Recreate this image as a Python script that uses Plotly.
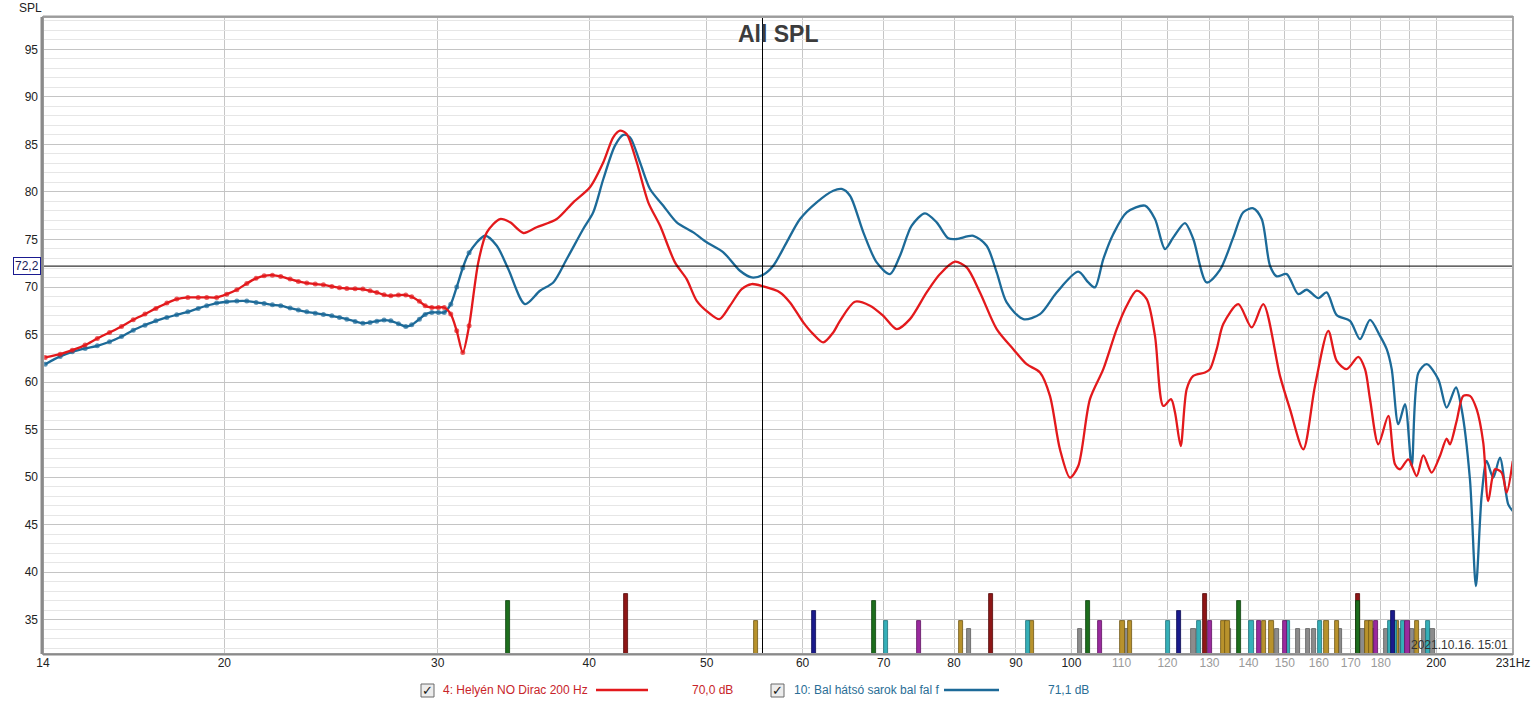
import plotly.graph_objects as go

# ---------------- data ----------------
LOW_F = [14.23, 14.64, 14.98, 15.35, 15.71, 16.08, 16.45, 16.82, 17.20, 17.56,
         17.93, 18.27, 18.66, 19.03, 19.34, 19.71, 20.09, 20.48, 20.87, 21.24,
         21.57, 21.91, 22.26, 22.66, 23.02, 23.39, 23.77, 24.14, 24.53, 24.89,
         25.24, 25.64, 26.02, 26.38, 26.72, 27.09, 27.44, 27.84, 28.23, 28.55,
         28.97, 29.29, 29.66, 30.04, 30.37, 30.75, 31.10, 31.46, 31.84]
RED_LOW = [62.59, 62.94, 63.36, 63.89, 64.59, 65.22, 65.85, 66.55, 67.15, 67.75,
           68.31, 68.73, 68.91, 68.91, 68.91, 68.91, 69.25, 69.71, 70.38, 70.91,
           71.18, 71.25, 71.11, 70.83, 70.59, 70.41, 70.31, 70.23, 70.06, 69.92,
           69.85, 69.81, 69.78, 69.60, 69.43, 69.18, 69.08, 69.15, 69.15, 68.97,
           68.49, 68.02, 67.85, 67.85, 67.85, 67.15, 65.39, 63.12, 65.92]
BLUE_LOW = [61.88, 62.70, 63.18, 63.54, 63.82, 64.24, 64.80, 65.46, 65.99, 66.44,
            66.80, 67.08, 67.39, 67.75, 68.03, 68.31, 68.45, 68.52, 68.52, 68.38,
            68.27, 68.13, 68.03, 67.78, 67.57, 67.39, 67.25, 67.12, 66.97, 66.80,
            66.62, 66.38, 66.20, 66.28, 66.41, 66.52, 66.44, 66.13, 65.85, 66.02,
            66.62, 67.12, 67.33, 67.33, 67.33, 68.20, 70.00, 72.00, 73.60]

RED_F = [32.40, 32.93, 33.77, 34.42, 35.30, 36.20, 37.61, 38.81, 40.06, 41.09,
         41.87, 42.41, 42.95, 43.78, 44.75, 45.76, 47.08, 48.14, 49.07, 50.16,
         51.22, 52.27, 53.44, 54.47, 55.68, 57.48, 58.58, 60.08, 61.23, 62.40,
         63.60, 64.42, 66.28, 68.20, 69.94, 71.75, 73.58, 75.95, 77.90, 80.15,
         81.95, 84.05, 86.76, 89.54, 91.85, 94.20, 96.00, 97.84, 99.72, 101.30,
         103.58, 106.24, 108.98, 111.07, 113.20, 115.37, 117.20, 119.07, 120.83, 121.75,
         123.07, 124.48, 126.05, 128.89, 130.11, 131.78, 133.44, 137.30, 140.84, 143.98,
         148.62, 151.47, 155.35, 158.85, 162.91, 165.53, 168.71, 172.47, 174.68, 176.35,
         179.15, 182.59, 184.92, 186.69, 189.66, 192.71, 195.14, 198.26, 201.41, 203.99,
         205.27, 207.90, 210.53, 213.22, 215.95, 218.68, 220.76, 223.59, 226.45, 228.61,
         231.30]
RED_DB = [72.59, 75.75, 77.15, 76.80, 75.68, 76.28, 77.15, 78.91, 80.49, 83.12,
          85.75, 86.45, 86.10, 83.12, 78.91, 76.46, 72.59, 70.83, 68.55, 67.33,
          66.62, 68.03, 69.78, 70.31, 70.06, 69.43, 68.38, 66.28, 65.04, 64.17,
          65.22, 66.44, 68.45, 68.03, 66.97, 65.57, 66.62, 69.43, 71.36, 72.66,
          72.06, 69.43, 65.57, 63.46, 61.88, 61.01, 58.55, 52.93, 49.95, 51.17,
          58.20, 61.36, 65.57, 68.03, 69.61, 68.73, 64.86, 57.49, 58.20, 56.80,
          53.28, 59.26, 60.65, 61.01, 61.36, 63.46, 66.10, 68.20, 65.75, 68.20,
          60.65, 57.15, 52.93, 59.61, 65.39, 62.23, 61.36, 62.65, 61.36, 58.20,
          53.46, 56.44, 51.35, 50.83, 51.88, 50.12, 52.30, 50.48, 52.23, 54.06,
          53.46, 55.91, 58.55, 58.55, 57.15, 53.64, 47.49, 50.83, 50.48, 48.38,
          51.70]

BLUE_F = [32.82, 33.56, 34.30, 35.41, 36.43, 37.36, 38.33, 39.55, 40.31, 41.09,
          42.01, 42.68, 43.22, 44.05, 44.90, 46.05, 47.24, 48.75, 50.01, 51.61,
          53.27, 54.47, 55.68, 56.75, 58.21, 59.71, 61.63, 63.60, 64.63, 65.66,
          67.34, 69.07, 70.84, 72.20, 73.82, 75.71, 77.41, 79.14, 80.41, 82.99,
          85.12, 86.76, 88.42, 91.26, 94.20, 97.23, 101.30, 103.25, 104.57, 106.24,
          108.28, 111.07, 115.00, 117.20, 119.46, 121.35, 124.08, 126.05, 129.30, 132.61,
          136.00, 138.61, 141.27, 143.55, 145.83, 147.70, 150.53, 153.88, 156.36, 159.84,
          162.42, 165.53, 169.77, 173.03, 176.35, 179.73, 182.03, 183.77, 186.09, 188.47,
          190.88, 193.29, 196.40, 200.76, 203.99, 207.63, 209.89, 213.22, 215.66, 218.01,
          220.09, 222.87, 225.72, 229.31, 231.30]
BLUE_DB = [75.39, 74.34, 71.89, 68.20, 69.61, 70.48, 72.94, 76.10, 77.86, 81.36,
           84.87, 86.00, 85.75, 83.12, 80.31, 78.55, 76.80, 75.75, 74.70, 73.65,
           71.71, 71.01, 71.30, 72.24, 74.70, 77.15, 78.91, 80.13, 80.31, 79.60,
           75.75, 72.59, 71.36, 73.29, 76.45, 77.75, 76.80, 75.12, 75.05, 75.39,
           74.34, 71.54, 68.38, 66.62, 67.15, 69.43, 71.61, 70.48, 69.96, 72.94,
           75.57, 77.86, 78.55, 77.15, 73.99, 75.22, 76.73, 75.05, 70.48, 71.80,
           75.22, 77.86, 78.28, 77.15, 72.24, 71.12, 71.36, 69.25, 69.71, 68.83,
           69.43, 67.04, 66.44, 64.52, 66.55, 64.86, 63.46, 61.36, 55.57, 57.67,
           51.17, 60.95, 61.88, 60.30, 57.32, 59.43, 57.15, 49.78, 38.54, 48.02,
           51.70, 49.95, 52.06, 47.14, 46.44]

# mode markers at the bottom (frequency, top level in dB)
MODES_GRAY_F = [82.36, 101.69, 111.03, 126.10, 134.90, 147.75, 153.83, 156.86, 158.48,
                166.42, 173.82, 177.22, 181.66, 186.45, 190.99, 195.36, 198.56]
MODES_GRAY_TOP = [34.0] * len(MODES_GRAY_F)
MODES_OLIVE_F = [54.94, 81.07, 92.69, 110.17, 111.83, 133.52, 134.49, 144.26, 146.25,
                 162.35, 165.56, 175.51, 176.65, 185.74, 192.85]
MODES_OLIVE_TOP = [34.9] * len(MODES_OLIVE_F)
MODES_TEAL_F = [70.34, 92.14, 120.18, 127.50, 140.82, 150.87, 160.45, 183.08, 184.90,
                187.66, 196.89]
MODES_TEAL_TOP = [34.9] * len(MODES_TEAL_F)
MODES_PURPLE_F = [74.85, 105.61, 130.19, 142.84, 149.98, 178.38, 189.37]
MODES_PURPLE_TOP = [34.9] * len(MODES_PURPLE_F)
MODES_NAVY_F = [61.31, 122.70, 184.30]
MODES_NAVY_TOP = [35.9] * len(MODES_NAVY_F)
MODES_RED_F = [42.92, 85.89, 128.91, 172.24]
MODES_RED_TOP = [37.7] * len(MODES_RED_F)
MODES_GREEN_F = [34.30, 68.76, 103.23, 137.56, 172.24]
MODES_GREEN_TOP = [37.0] * len(MODES_GREEN_F)

X_TICKS = [14.17, 20, 30, 40, 50, 60, 70, 80, 90, 100, 110, 120, 130, 140, 150,
           160, 170, 180, 200, 231.4]
X_LABELS = ["14", "20", "30", "40", "50", "60", "70", "80", "90", "100", "110", "120",
            "130", "140", "150", "160", "170", "180", "200", "231Hz"]
X_GRID = [20, 30, 40, 50, 60, 70, 80, 90, 100, 110, 120, 130, 140, 150, 160, 170,
          180, 190, 200]
Y_TICKS = [35, 40, 45, 50, 55, 60, 65, 70, 75, 80, 85, 90, 95]

CURSOR_F = 55.6
CURSOR_DB = 72.2
NAME_RED = "4: Helyén NO Dirac 200 Hz"
NAME_BLUE = "10: Bal hátsó sarok bal fal f"
VAL_RED = "70,0 dB"
VAL_BLUE = "71,1 dB"

# ---------------- styling ----------------
W, H = 1536, 707
L, R, T, B = 43, 1513, 17, 654
X_RANGE = [1.15137, 2.36436]   # log10(14.17), log10(231.4)
Y_RANGE = [31.4, 98.4]
FONT = "Liberation Sans, Arial, sans-serif"
RED = "#e3191c"
BLUE = "#1c6a98"
BAR_REL_W = 0.0080   # bar width relative to its frequency (about 4 px)


def px(x):
    return (x - L) / (R - L)


def py(y):
    return (B - y) / (B - T)


fig = go.Figure()

mode_sets = [
    (MODES_GRAY_F, MODES_GRAY_TOP, "#8c8c8c", "#5a5a5a"),
    (MODES_OLIVE_F, MODES_OLIVE_TOP, "#b8922c", "#6e5514"),
    (MODES_TEAL_F, MODES_TEAL_TOP, "#35b0b8", "#1d7078"),
    (MODES_PURPLE_F, MODES_PURPLE_TOP, "#9a2a9e", "#5e1060"),
    (MODES_NAVY_F, MODES_NAVY_TOP, "#1a1a8c", "#0a0a50"),
    (MODES_RED_F, MODES_RED_TOP, "#8e1616", "#500808"),
    (MODES_GREEN_F, MODES_GREEN_TOP, "#1d6e1d", "#0c400c"),
]
for fs, tops, col, edge in mode_sets:
    fig.add_trace(go.Bar(
        x=fs, y=tops, width=[f * BAR_REL_W for f in fs],
        marker=dict(color=col, line=dict(color=edge, width=0.8)),
        showlegend=False, hoverinfo="skip",
    ))

for lf, low, f, db, col in [(LOW_F, BLUE_LOW, BLUE_F, BLUE_DB, BLUE),
                            (LOW_F, RED_LOW, RED_F, RED_DB, RED)]:
    xs = lf + f
    ys = low + db
    sizes = [5] * len(lf) + [0] * len(f)
    fig.add_trace(go.Scatter(
        x=xs, y=ys, mode="lines+markers",
        line=dict(color=col, width=2.3, shape="spline", smoothing=0.8),
        marker=dict(color=col, size=sizes, line=dict(width=0)),
        showlegend=False, hoverinfo="skip",
    ))

ticktext = []
for v, t in zip(X_TICKS, X_LABELS):
    if 105 < v < 190:
        ticktext.append("<span style='color:#9a9a9a'>" + t + "</span>")
    else:
        ticktext.append(t)

fig.update_layout(
    width=W, height=H, autosize=False,
    margin=dict(l=L, r=W - R, t=T, b=H - B, pad=0, autoexpand=False),
    paper_bgcolor="white", plot_bgcolor="white",
    barmode="overlay", bargap=0,
    font=dict(family=FONT, size=12, color="#222222"),
    showlegend=False,
    xaxis=dict(
        type="log", range=X_RANGE, automargin=False,
        tickmode="array", tickvals=X_TICKS, ticktext=ticktext,
        showgrid=False, zeroline=False, showline=False, ticks="",
        tickfont=dict(size=12, color="#222222"),
        minor=dict(tickmode="array", tickvals=X_GRID, showgrid=True,
                   gridcolor="#c6c6c6", gridwidth=1, ticks=""),
    ),
    yaxis=dict(
        range=Y_RANGE, tickmode="array", tickvals=Y_TICKS, automargin=False,
        showgrid=True, gridcolor="#c4c4c4", gridwidth=1,
        zeroline=False, showline=False, ticks="",
        ticklabelstandoff=4,
        tickfont=dict(size=12, color="#222222"),
        minor=dict(dtick=1, tick0=0, showgrid=True, gridcolor="#e6e6e6",
                   gridwidth=1, ticks=""),
    ),
)

shapes = []
# darker 100 Hz decade line
shapes.append(dict(type="line", xref="x", yref="paper", x0=100, x1=100, y0=0, y1=1,
                   line=dict(color="#8e8e8e", width=1), layer="below"))
# cursor lines
shapes.append(dict(type="line", xref="x", yref="paper", x0=CURSOR_F, x1=CURSOR_F,
                   y0=0, y1=1, line=dict(color="#000000", width=1)))
shapes.append(dict(type="line", xref="paper", yref="y", x0=0, x1=1,
                   y0=CURSOR_DB, y1=CURSOR_DB, line=dict(color="#000000", width=1)))
# plot frame
shapes.append(dict(type="rect", xref="paper", yref="paper", x0=0, x1=1, y0=0, y1=1,
                   line=dict(color="#a8a8a8", width=2)))
shapes.append(dict(type="line", xref="paper", yref="paper", x0=px(L - 1), x1=px(L - 1),
                   y0=0, y1=1, line=dict(color="#8a8a8a", width=3)))
shapes.append(dict(type="line", xref="paper", yref="paper", x0=0, x1=1,
                   y0=py(B + 0.5), y1=py(B + 0.5), line=dict(color="#8a8a8a", width=2)))
shapes.append(dict(type="line", xref="paper", yref="paper", x0=0, x1=1,
                   y0=py(T - 0.5), y1=py(T - 0.5), line=dict(color="#9c9c9c", width=2)))

# legend swatches and checkboxes
LEG_Y = 690
for x0, x1, col in [(596, 648, RED), (944, 999, BLUE)]:
    shapes.append(dict(type="line", xref="paper", yref="paper", x0=px(x0), x1=px(x1),
                       y0=py(LEG_Y), y1=py(LEG_Y), line=dict(color=col, width=2.5)))
for cx in [421, 771]:
    shapes.append(dict(type="rect", xref="paper", yref="paper",
                       x0=px(cx), x1=px(cx + 13), y0=py(LEG_Y + 7), y1=py(LEG_Y - 6),
                       line=dict(color="#6a6a6a", width=1), fillcolor="#ececec"))
fig.update_layout(shapes=shapes)

ann = []
ann.append(dict(text="<b>All SPL</b>", x=px(778), y=py(34), xref="paper", yref="paper",
                showarrow=False, font=dict(size=23, color="#3c3c3c", family=FONT),
                xanchor="center", yanchor="middle"))
ann.append(dict(text="SPL", x=px(17), y=py(8), xref="paper", yref="paper",
                showarrow=False, font=dict(size=12, color="#222222"),
                xanchor="left", yanchor="middle"))
ann.append(dict(text="2021.10.16. 15:01", x=px(1510), y=py(645), xref="paper",
                yref="paper", showarrow=False, font=dict(size=12, color="#333333"),
                xanchor="right", yanchor="middle"))
# cursor readouts
ann.append(dict(text="55,6", x=CURSOR_F, y=py(666), xref="x", yref="paper",
                showarrow=False, font=dict(size=12, color="#1a1a5a"),
                bgcolor="white", bordercolor="#1a1a90", borderwidth=1, borderpad=1,
                xanchor="center", yanchor="middle"))
ann.append(dict(text="72,2", x=px(27), y=CURSOR_DB, xref="paper", yref="y",
                showarrow=False, font=dict(size=12, color="#1a1a5a"),
                bgcolor="white", bordercolor="#1a1a90", borderwidth=1, borderpad=1,
                xanchor="center", yanchor="middle"))
# legend texts
for cx in [421, 771]:
    ann.append(dict(text="<b>✓</b>", x=px(cx + 6.5), y=py(LEG_Y), xref="paper",
                    yref="paper", showarrow=False,
                    font=dict(size=13, color="#1a1a1a", family="DejaVu Sans"),
                    xanchor="center", yanchor="middle"))
ann.append(dict(text=NAME_RED, x=px(441), y=py(LEG_Y), xref="paper", yref="paper",
                showarrow=False, font=dict(size=12, color="#c8242a"),
                xanchor="left", yanchor="middle"))
ann.append(dict(text=VAL_RED, x=px(690), y=py(LEG_Y), xref="paper", yref="paper",
                showarrow=False, font=dict(size=12, color="#c8242a"),
                xanchor="left", yanchor="middle"))
ann.append(dict(text=NAME_BLUE, x=px(792), y=py(LEG_Y), xref="paper", yref="paper",
                showarrow=False, font=dict(size=12, color="#2a6e96"),
                xanchor="left", yanchor="middle"))
ann.append(dict(text=VAL_BLUE, x=px(1046), y=py(LEG_Y), xref="paper", yref="paper",
                showarrow=False, font=dict(size=12, color="#2a6e96"),
                xanchor="left", yanchor="middle"))
fig.update_layout(annotations=ann)

fig.write_html("out.html", config={"displayModeBar": False},
               post_script="document.body.style.margin='0';")
